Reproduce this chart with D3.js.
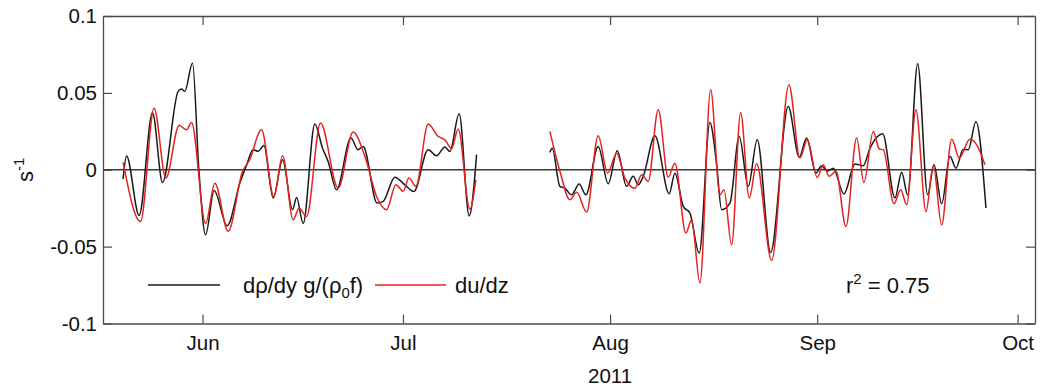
<!DOCTYPE html>
<html>
<head>
<meta charset="utf-8">
<script src="https://cdn.jsdelivr.net/npm/d3@7/dist/d3.min.js"></script>
<style>
  html, body { margin: 0; padding: 0; background: #fff; }
  svg { display: block; }
  text { font-family: "Liberation Sans", Arial, Helvetica, sans-serif; fill: #111; }
</style>
</head>
<body>
<svg id="chart" width="1048" height="386"></svg>
<script>
// ---- data (days are offsets from 2011-06-01, values in s^-1) ----
const blackDays1 = [-11.89,-11.38,-9.49,-7.49,-5.99,-3.65,-3.14,-2.65,-1.50,-0.55,0.45,1.74,3.68,5.58,6.59,7.57,8.32,9.18,10.57,11.98,13.47,14.07,15.06,16.81,17.96,18.80,20.06,22.20,23.29,24.04,26.14,27.04,28.79,30.28,31.63,33.77,35.03,36.27,37.02,38.41,39.91,41.02];
const blackVals1 = [-0.006,0.009,-0.0297,0.037,-0.0083,0.051,0.0525,0.051,0.0694,0.000,-0.0423,-0.0135,-0.0364,-0.0087,0.003,0.013,0.012,0.0158,-0.0184,0.0065,-0.026,-0.018,-0.035,0.0297,0.014,0.0054,-0.013,0.0206,0.013,0.0152,-0.0217,-0.0206,-0.0048,-0.0098,-0.0141,0.013,0.0091,0.0148,0.0119,0.0364,-0.030,0.0098];

const redDays1 = [-11.89,-9.28,-7.25,-5.49,-3.50,-2.40,-1.65,0.45,1.84,3.83,5.99,7.0,8.83,10.67,11.98,13.56,14.46,15.57,17.66,20.30,22.54,24.30,26.14,27.54,28.94,30.03,30.88,31.93,33.77,35.27,36.27,37.28,38.26,40.01,40.91];
const redVals1 = [0.0048,-0.0336,0.040,-0.0054,0.029,0.026,0.0308,-0.035,-0.0087,-0.040,-0.001,0.006,0.026,-0.0174,0.0091,-0.0325,-0.025,-0.0304,0.0304,-0.0119,0.0245,0.0087,-0.0184,-0.026,-0.0098,-0.014,-0.0054,-0.0108,0.0297,0.0217,0.0195,0.0137,0.0265,-0.0256,-0.0065];

const blackDays2 = [51.99,52.34,53.49,54.24,55.24,56.38,57.38,59.22,60.72,62.07,63.47,64.46,65.21,65.96,67.71,69.85,70.70,71.95,72.95,74.34,75.94,76.95,77.69,78.94,80.33,81.68,83.02,85.03,87.66,89.31,90.42,91.81,92.66,93.50,94.40,96.00,97.65,98.89,99.90,101.80,103.64,104.64,105.54,107.04,108.53,109.48,110.63,111.87,112.77,113.86,114.61,115.76,117.26];
const blackVals2 = [0.0113,0.014,-0.0108,-0.012,-0.0163,-0.0093,-0.0163,0.0152,-0.0091,0.0124,-0.0108,-0.0043,-0.0098,-0.0043,0.0221,-0.0156,-0.0022,-0.0238,-0.0282,-0.0542,0.0308,0.0033,-0.026,-0.0217,0.0217,-0.0108,0.0195,-0.0538,0.0412,0.0082,0.0206,-0.0022,0.0026,-0.001,0.001,-0.0158,0.0037,0.0026,0.014,0.0234,-0.0184,-0.0017,-0.0163,0.069,-0.0163,0.0033,-0.0221,0.0087,0.001,0.0134,0.013,0.0314,-0.0249];

const redDays2 = [51.99,53.49,54.99,55.99,57.49,59.22,60.63,61.98,63.22,64.72,65.72,66.71,68.20,69.70,70.70,72.35,73.20,74.45,76.05,77.44,78.04,79.19,80.54,81.83,82.93,85.18,87.77,89.42,90.51,92.01,92.90,93.80,94.81,96.30,97.90,98.99,100.39,101.29,101.89,103.49,104.49,105.39,106.78,108.28,109.37,110.63,112.13,113.26,114.87,115.96,117.11];
const redVals2 = [0.025,-0.001,-0.0195,-0.0147,-0.0275,0.0221,-0.0022,0.0108,-0.0054,-0.012,-0.0033,-0.0076,0.039,-0.0048,0.0043,-0.0412,-0.0325,-0.0737,0.052,-0.0163,-0.013,-0.0488,0.0373,-0.0184,0.0039,-0.059,0.0553,0.0076,0.0195,-0.005,0.0033,-0.0043,-0.001,-0.0369,0.0206,-0.0083,0.0249,0.0135,0.013,-0.0221,-0.013,-0.0228,0.039,-0.0271,0.0026,-0.0358,0.02,0.0076,0.02,0.0156,0.0033];

const monthTickDates = ["2011-06-01","2011-07-01","2011-08-01","2011-09-01","2011-10-01"];
const monthTickLabels = ["Jun","Jul","Aug","Sep","Oct"];
const yTickValues = [-0.1,-0.05,0,0.05,0.1];
const yTickLabels = ["-0.1","-0.05","0","0.05","0.1"];
const xDomainDays = [-14.9, 124.6];
const yDomain = [-0.1, 0.1];
const seriesNames = ["black", "red"];
const seriesColors = ["#1a1a1a", "#e3231f"];

// ---- drawing ----
const base = Date.UTC(2011, 5, 1);
const toDate = d => new Date(base + d * 864e5);
const svg = d3.select("#chart");
const L = 103, R = 1035, T = 16, B = 323.5;

const x = d3.scaleUtc().domain(xDomainDays.map(toDate)).range([L, R]);
const y = d3.scaleLinear().domain(yDomain).range([B, T]);

const frameColor = "#4a4a4a";
const tickLen = 9;

// zero line
svg.append("line")
  .attr("x1", L).attr("x2", R)
  .attr("y1", y(0)).attr("y2", y(0))
  .attr("stroke", "#3a3a3a").attr("stroke-width", 1.3);

const line = d3.line()
  .x(d => x(toDate(d[0])))
  .y(d => y(d[1]))
  .curve(d3.curveMonotoneX);

const zip = (a, b) => a.map((v, i) => [v, b[i]]);
const segments = [
  { pts: zip(blackDays1, blackVals1), color: seriesColors[0] },
  { pts: zip(blackDays2, blackVals2), color: seriesColors[0] },
  { pts: zip(redDays1, redVals1), color: seriesColors[1] },
  { pts: zip(redDays2, redVals2), color: seriesColors[1] }
];
svg.append("g").selectAll("path").data(segments).join("path")
  .attr("d", d => line(d.pts))
  .attr("fill", "none")
  .attr("stroke", d => d.color)
  .attr("stroke-width", 1.5)
  .attr("stroke-linejoin", "round");

// axes (ticks inward, all four sides)
const monthDates = monthTickDates.map(s => new Date(s + "T00:00:00Z"));
const xAxisB = d3.axisBottom(x).tickValues(monthDates).tickSizeInner(-tickLen).tickSizeOuter(0)
  .tickFormat((d, i) => monthTickLabels[i]).tickPadding(12);
const gxb = svg.append("g").attr("transform", `translate(0,${B})`).call(xAxisB);
const xAxisT = d3.axisTop(x).tickValues(monthDates).tickSizeInner(-tickLen).tickSizeOuter(0).tickFormat("");
const gxt = svg.append("g").attr("transform", `translate(0,${T})`).call(xAxisT);
const yAxisL = d3.axisLeft(y).tickValues(yTickValues).tickSizeInner(-tickLen).tickSizeOuter(0)
  .tickFormat((d, i) => yTickLabels[i]).tickPadding(16);
const gyl = svg.append("g").attr("transform", `translate(${L},0)`).call(yAxisL);
const yAxisR = d3.axisRight(y).tickValues(yTickValues).tickSizeInner(-tickLen).tickSizeOuter(0).tickFormat("");
const gyr = svg.append("g").attr("transform", `translate(${R},0)`).call(yAxisR);

[gxb, gxt, gyl, gyr].forEach(g => {
  g.select(".domain").attr("stroke", frameColor).attr("stroke-width", 1.3);
  g.selectAll(".tick line").attr("stroke", frameColor).attr("stroke-width", 1.2);
  g.selectAll(".tick text").attr("font-size", 20.5).attr("fill", "#111")
    .attr("font-family", "Liberation Sans, Arial, sans-serif");
});
gyl.selectAll(".tick text").attr("x", -6);

// x-axis year label
svg.append("text").attr("x", (x(monthDates[2]))).attr("y", 383)
  .attr("text-anchor", "middle").attr("font-size", 20.5).text("2011");

// y-axis label s^-1
const yl = svg.append("text")
  .attr("transform", `translate(33,${y(0)}) rotate(-90)`)
  .attr("text-anchor", "middle").attr("font-size", 22);
yl.append("tspan").text("s");
yl.append("tspan").attr("dy", -9).attr("font-size", 15).text("-1");

// legend
const legY = 285;
svg.append("line").attr("x1", 148).attr("x2", 220).attr("y1", legY).attr("y2", legY)
  .attr("stroke", seriesColors[0]).attr("stroke-width", 1.5);
const lt = svg.append("text").attr("x", 243).attr("y", legY + 7.5).attr("font-size", 22);
lt.append("tspan").text("dρ/dy g/(ρ");
lt.append("tspan").attr("dy", 5).attr("font-size", 15).text("0");
lt.append("tspan").attr("dy", -5).text("f)");
svg.append("line").attr("x1", 375).attr("x2", 446).attr("y1", legY).attr("y2", legY)
  .attr("stroke", seriesColors[1]).attr("stroke-width", 1.5);
svg.append("text").attr("x", 455).attr("y", legY + 7.5).attr("font-size", 22).text("du/dz");

// r^2 annotation
const rt = svg.append("text").attr("x", 846).attr("y", legY + 7.5).attr("font-size", 22);
rt.append("tspan").text("r");
rt.append("tspan").attr("dy", -9).attr("font-size", 15).text("2");
rt.append("tspan").attr("dy", 9).text(" = 0.75");
</script>
</body>
</html>
